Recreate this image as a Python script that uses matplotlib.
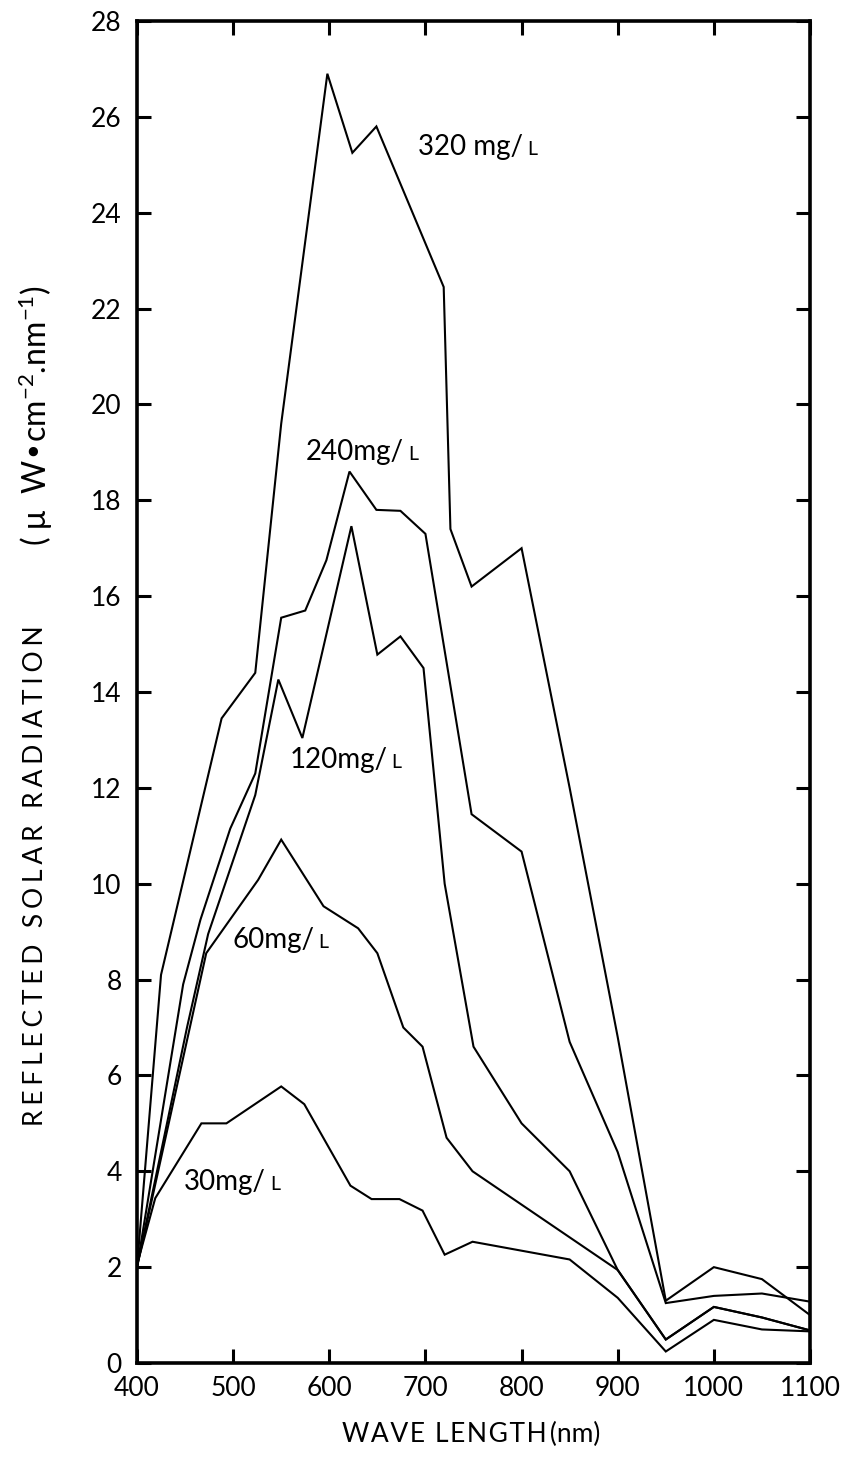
import matplotlib
matplotlib.use('Agg')
from matplotlib import pyplot as plt
from matplotlib.offsetbox import TextArea, HPacker, AnnotationBbox

# wavelengths (nm) and reflected radiation, one pair per concentration
wl_320 = [400, 425, 488, 523, 550, 598, 624, 649, 719, 726, 748, 800, 850, 900, 950, 1000, 1050, 1100]
r_320 = [2.0, 8.1, 13.45, 14.4, 19.6, 26.9, 25.25, 25.8, 22.45, 17.4, 16.2, 17.0, 12.0, 6.8, 1.3, 2.0, 1.75, 1.0]

wl_240 = [400, 448, 466, 497, 523, 550, 575, 597, 621, 649, 674, 700, 748, 800, 850, 900, 950, 1000, 1050, 1100]
r_240 = [2.0, 7.9, 9.25, 11.15, 12.3, 15.55, 15.7, 16.75, 18.6, 17.8, 17.78, 17.3, 11.45, 10.67, 6.7, 4.4, 1.25, 1.4, 1.45, 1.28]

wl_120 = [400, 452, 474, 523, 547, 572, 623, 650, 674, 698, 720, 750, 800, 850, 900, 950, 1000, 1050, 1100]
r_120 = [2.0, 7.0, 8.95, 11.85, 14.26, 13.04, 17.46, 14.78, 15.16, 14.5, 10.0, 6.6, 5.0, 4.0, 1.94, 0.49, 1.17, 0.95, 0.68]

wl_60 = [400, 472, 526, 550, 594, 630, 650, 677, 697, 722, 749, 900, 950, 1000, 1050, 1100]
r_60 = [2.0, 8.55, 10.08, 10.92, 9.53, 9.07, 8.55, 7.0, 6.6, 4.7, 4.0, 1.94, 0.49, 1.17, 0.95, 0.68]

wl_30 = [400, 419, 467, 493, 550, 574, 622, 644, 673, 697, 720, 749, 850, 900, 950, 1000, 1050, 1100]
r_30 = [2.05, 3.44, 5.0, 5.0, 5.77, 5.4, 3.7, 3.42, 3.42, 3.18, 2.26, 2.53, 2.16, 1.36, 0.24, 0.9, 0.7, 0.66]

# label text and where it sits (wavelength, value)
labels = [('320 mg/', 754, 25.37), ('240mg/', 634, 19.0), ('120mg/', 617, 12.59),
          ('60mg/', 549, 8.83), ('30mg/', 499, 3.78)]

x_ticks = [400, 500, 600, 700, 800, 900, 1000, 1100]
y_ticks = list(range(0, 29, 2))

plt.rcParams['font.family'] = ['Lato', 'DejaVu Sans']
plt.rcParams['mathtext.default'] = 'regular'

fig = plt.figure(figsize=(8.43, 14.57), dpi=100)
ax = fig.add_axes([137 / 843, 94 / 1457, 673 / 843, 1342 / 1457])

for wl, r in [(wl_320, r_320), (wl_240, r_240), (wl_120, r_120), (wl_60, r_60), (wl_30, r_30)]:
    ax.plot(wl, r, color='black', lw=1.5, solid_joinstyle='miter')

for txt, x, y in labels:
    a = TextArea(txt, textprops=dict(fontsize=20))
    b = TextArea('L', textprops=dict(fontsize=14))
    box = HPacker(children=[a, b], align='baseline', pad=0, sep=3)
    ax.add_artist(AnnotationBbox(box, (x, y), frameon=False, box_alignment=(0.5, 0.5)))

ax.set_xlim(400, 1100)
ax.set_ylim(0, 28)
ax.set_xticks(x_ticks)
ax.set_yticks(y_ticks)
ax.tick_params(direction='in', length=10, width=2.2, labelsize=19, top=True, right=True)
ax.tick_params(axis='x', pad=9)
ax.tick_params(axis='y', pad=11)
for s in ax.spines.values():
    s.set_linewidth(2.6)

xlab = '\u200a'.join('WAVE LENGTH') + '\u2009(nm)'
fig.text(471 / 843, 1 - 1434 / 1457, xlab, ha='center', va='center', fontsize=19)

# y label in two parts, letters spaced out like the original lettering
ylab = '\u2009\u200a'.join('REFLECTED SOLAR RADIATION')
fig.text(36 / 843, 1 - 876 / 1457, ylab, rotation=90, ha='center', va='center', fontsize=19)
fig.text(36 / 843, 1 - 416 / 1457, '( $\\mu$  W\u2022cm$^{-2}$.nm$^{-1}$)',
         rotation=90, ha='center', va='center', fontsize=23)

fig.savefig('out.png', dpi=100)
